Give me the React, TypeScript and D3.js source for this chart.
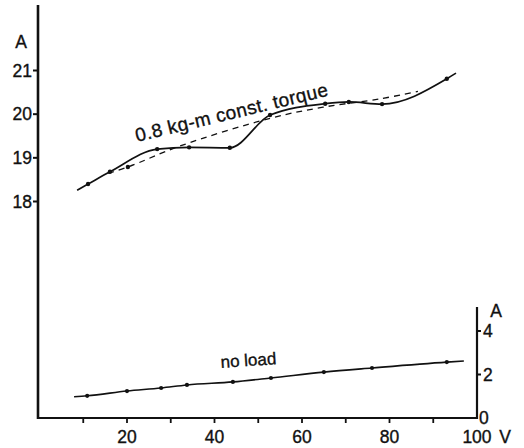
import React from "react";
import * as d3 from "d3";

// Torque curve (solid, measured), V vs A
const torqueV = [8.6, 11.1, 16.1, 26.9, 34.2, 43.5, 52.7, 65.3, 70.7, 78.3, 93.1, 95.2];
const torqueA = [18.26, 18.4, 18.68, 19.2, 19.24, 19.23, 19.98, 20.24, 20.28, 20.23, 20.81, 20.94];
// Dashed smoothed curve
const fitV = [15.7, 20.2, 32.1, 52.9, 64.8, 77.8, 86.5];
const fitA = [18.65, 18.79, 19.27, 19.91, 20.16, 20.35, 20.52];
const fitMarkV = [20.2];
const fitMarkA = [18.79];
// No-load curve
const noLoadV = [7.9, 10.9, 20.0, 27.8, 33.7, 44.2, 52.9, 65.0, 76.0, 93.1, 97.0];
const noLoadA = [0.98, 1.02, 1.24, 1.38, 1.52, 1.66, 1.84, 2.11, 2.3, 2.57, 2.62];

const xMajor = [20, 40, 60, 80, 100];
const xMinor = [10, 20, 30, 40, 50, 60, 70, 80, 90];
const leftTicks = [18, 19, 20, 21];
const rightTicks = [0, 2, 4];

export default function App() {
  const x = d3.scaleLinear().domain([0, 100]).range([39.5, 477]);
  const yL = d3.scaleLinear().domain([18, 21]).range([201.5, 70.5]);
  const yR = d3.scaleLinear().domain([0, 4]).range([418, 331]);

  const lineL = d3
    .line<number>()
    .x((_, i) => x(torqueV[i]))
    .y((d) => yL(d))
    .curve(d3.curveMonotoneX);
  const lineFit = d3
    .line<number>()
    .x((_, i) => x(fitV[i]))
    .y((d) => yL(d))
    .curve(d3.curveCatmullRom.alpha(0.5));
  const lineNL = d3
    .line<number>()
    .x((_, i) => x(noLoadV[i]))
    .y((d) => yR(d))
    .curve(d3.curveMonotoneX);

  const font = "'Liberation Sans', Arial, sans-serif";
  const txt = { fill: "#111", stroke: "#111", strokeWidth: 0.35 } as const;

  return (
    <div style={{ position: "absolute", left: 0, top: 0 }}>
      <svg width={524} height={448} style={{ display: "block", background: "#fff" }} fontFamily={font}>
        {/* axes */}
        <line x1={38} y1={5} x2={38} y2={419} stroke="#111" strokeWidth={2.6} />
        <line x1={37} y1={418} x2={478} y2={418} stroke="#111" strokeWidth={2.2} />
        <line x1={477} y1={307} x2={477} y2={419} stroke="#111" strokeWidth={2.2} />

        {/* left ticks */}
        {leftTicks.map((t) => (
          <g key={"l" + t}>
            <line x1={33} x2={38} y1={yL(t)} y2={yL(t)} stroke="#111" strokeWidth={2} />
            <text x={32} y={yL(t)} dy="0.36em" textAnchor="end" fontSize={17.5} {...txt}>
              {t}
            </text>
          </g>
        ))}
        <text x={21} y={48} textAnchor="middle" fontSize={17.5} {...txt}>A</text>

        {/* bottom ticks */}
        {xMinor.map((t) => (
          <line key={"m" + t} x1={x(t)} x2={x(t)} y1={418} y2={423} stroke="#111" strokeWidth={1.8} />
        ))}
        {xMajor.map((t) => (
          <text key={"x" + t} x={x(t)} y={443} textAnchor="middle" fontSize={17.5} {...txt}>
            {t}
          </text>
        ))}
        <text x={505} y={443} textAnchor="middle" fontSize={17.5} {...txt}>V</text>

        {/* right ticks */}
        {rightTicks.map((t) => (
          <g key={"r" + t}>
            {t > 0 && <line x1={477} x2={481} y1={yR(t)} y2={yR(t)} stroke="#111" strokeWidth={2} />}
            <text x={t > 0 ? 483 : 479} y={yR(t)} dy="0.36em" textAnchor="start" fontSize={17.5} {...txt}>
              {t}
            </text>
          </g>
        ))}
        <text x={496} y={317} textAnchor="middle" fontSize={17.5} {...txt}>A</text>

        {/* curves */}
        <path d={lineFit(fitA) || ""} fill="none" stroke="#111" strokeWidth={1.3} strokeDasharray="6,5" />
        <path d={lineL(torqueA) || ""} fill="none" stroke="#111" strokeWidth={1.7} />
        {torqueA.slice(1, -1).map((a, i) => (
          <circle key={"tp" + i} cx={x(torqueV[i + 1])} cy={yL(a)} r={2.2} fill="#111" />
        ))}
        {fitMarkA.map((a, i) => (
          <circle key={"fp" + i} cx={x(fitMarkV[i])} cy={yL(a)} r={2.2} fill="#111" />
        ))}
        <path d={lineNL(noLoadA) || ""} fill="none" stroke="#111" strokeWidth={1.6} />
        {noLoadA.slice(1, -1).map((a, i) => (
          <circle key={"np" + i} cx={x(noLoadV[i + 1])} cy={yR(a)} r={2.1} fill="#111" />
        ))}

        {/* labels */}
        <text
          x={137}
          y={142}
          fontSize={19}
          letterSpacing={0.4}
          {...txt}
          transform="rotate(-13.6 137 142)"
        >
          0.8 kg-m const. torque
        </text>
        <text x={221} y={368} fontSize={17} {...txt} transform="rotate(-4 221 368)">
          no load
        </text>
      </svg>
    </div>
  );
}
